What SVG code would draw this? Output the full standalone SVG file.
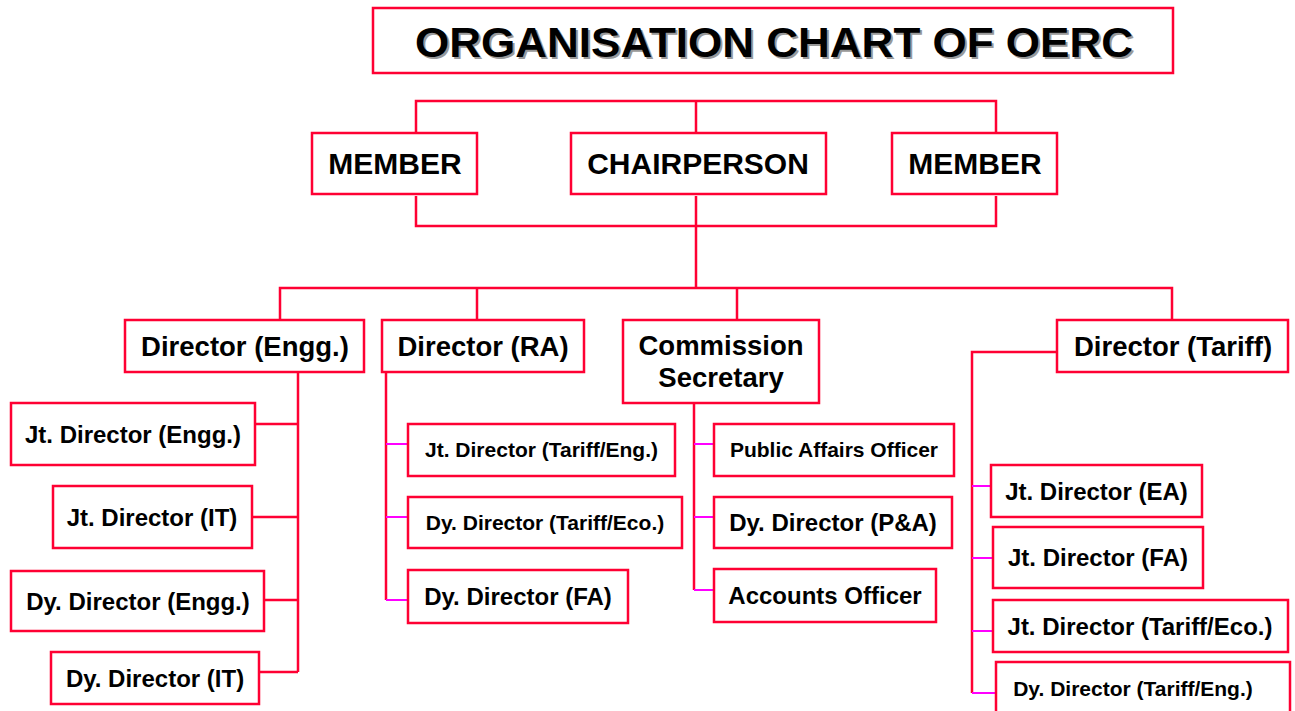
<svg xmlns="http://www.w3.org/2000/svg" width="1295" height="711" viewBox="0 0 1295 711">
<style>
.box{fill:#fff;stroke:#ff0033;stroke-width:2.5}
.t{font-family:"Liberation Sans",Arial,sans-serif;font-weight:bold;fill:#000;text-anchor:middle}
.l{fill:none;stroke:#ff0033;stroke-width:2.5}
.m{fill:none;stroke:#ff00ff;stroke-width:2}
.f30{font-size:30px}.f27{font-size:27.5px}.f24{font-size:24px}.f21{font-size:21px}
</style>
<rect width="1295" height="711" fill="#fff"/>
<g id="connectors">
<path class="l" d="M416,133V101H996V133M696,101V133"/>
<path class="l" d="M416,196V226H996V196M696,196V288"/>
<path class="l" d="M280,320V288H1172V320M477,288V320M737,288V320"/>
<path class="l" d="M298,372V672M255,424H298M251,517H298M264,600H298M259,672H298"/>
<path class="l" d="M386,372V600"/>
<path class="m" d="M386,444H408M386,517H408M386,600H408"/>
<path class="l" d="M694,403V590"/>
<path class="m" d="M694,444H714M694,517H714M694,590H714"/>
<path class="l" d="M1057,352H972V693"/>
<path class="m" d="M972,486H992M972,558H993M972,631H993M972,693H996"/>
</g>
<g id="title">
<rect class="box" x="373" y="8" width="800" height="65"/>
<text class="t" x="776" y="59" font-size="42" textLength="718" lengthAdjust="spacingAndGlyphs" style="fill:#999">ORGANISATION CHART OF OERC</text>
<text class="t" x="774" y="57" font-size="42" textLength="718" lengthAdjust="spacingAndGlyphs">ORGANISATION CHART OF OERC</text>
</g>
<g id="member1"><rect class="box" x="312" y="133" width="165" height="61"/><text class="t f30" x="395" y="174">MEMBER</text></g>
<g id="chairperson"><rect class="box" x="571" y="133" width="255" height="61"/><text class="t f30" x="698" y="174">CHAIRPERSON</text></g>
<g id="member2"><rect class="box" x="892" y="133" width="165" height="61"/><text class="t f30" x="975" y="174">MEMBER</text></g>
<g id="dir-engg"><rect class="box" x="125" y="320" width="239" height="52"/><text class="t f27" x="245" y="356">Director (Engg.)</text></g>
<g id="dir-ra"><rect class="box" x="382" y="320" width="202" height="52"/><text class="t f27" x="483" y="356">Director (RA)</text></g>
<g id="comm-sec"><rect class="box" x="623" y="320" width="196" height="83"/><text class="t f27" x="721" y="355">Commission</text><text class="t f27" x="721" y="387">Secretary</text></g>
<g id="dir-tariff"><rect class="box" x="1057" y="320" width="231" height="52"/><text class="t f27" x="1173" y="356">Director (Tariff)</text></g>
<g id="jd-engg"><rect class="box" x="11" y="403" width="244" height="62"/><text class="t f24" x="133" y="443">Jt. Director (Engg.)</text></g>
<g id="jd-it"><rect class="box" x="53" y="486" width="199" height="62"/><text class="t f24" x="152" y="526">Jt. Director (IT)</text></g>
<g id="dd-engg"><rect class="box" x="11" y="571" width="253" height="60"/><text class="t f24" x="138" y="610">Dy. Director (Engg.)</text></g>
<g id="dd-it"><rect class="box" x="51" y="652" width="208" height="52"/><text class="t f24" x="155" y="687">Dy. Director (IT)</text></g>
<g id="jd-tariff-eng"><rect class="box" x="408" y="424" width="267" height="52"/><text class="t f21" x="541.5" y="457">Jt. Director (Tariff/Eng.)</text></g>
<g id="dd-tariff-eco"><rect class="box" x="408" y="497" width="274" height="51"/><text class="t f21" x="545" y="530">Dy. Director (Tariff/Eco.)</text></g>
<g id="dd-fa"><rect class="box" x="408" y="570" width="220" height="53"/><text class="t f24" x="518" y="605">Dy. Director (FA)</text></g>
<g id="pao"><rect class="box" x="714" y="424" width="240" height="52"/><text class="t f21" x="834" y="457">Public Affairs Officer</text></g>
<g id="dd-pa"><rect class="box" x="714" y="497" width="238" height="51"/><text class="t f24" x="833" y="531">Dy. Director (P&amp;A)</text></g>
<g id="ao"><rect class="box" x="714" y="569" width="222" height="53"/><text class="t f24" x="825" y="604">Accounts Officer</text></g>
<g id="jd-ea"><rect class="box" x="991" y="465" width="211" height="52"/><text class="t f24" x="1096.5" y="500">Jt. Director (EA)</text></g>
<g id="jd-fa"><rect class="box" x="993" y="527" width="210" height="61"/><text class="t f24" x="1098" y="566">Jt. Director (FA)</text></g>
<g id="jd-tariff-eco"><rect class="box" x="993" y="600" width="295" height="52"/><text class="t f24" x="1140" y="635">Jt. Director (Tariff/Eco.)</text></g>
<g id="dd-tariff-eng"><rect class="box" x="996" y="662" width="294" height="52"/><text class="t f21" x="1133" y="696">Dy. Director (Tariff/Eng.)</text></g>
</svg>
